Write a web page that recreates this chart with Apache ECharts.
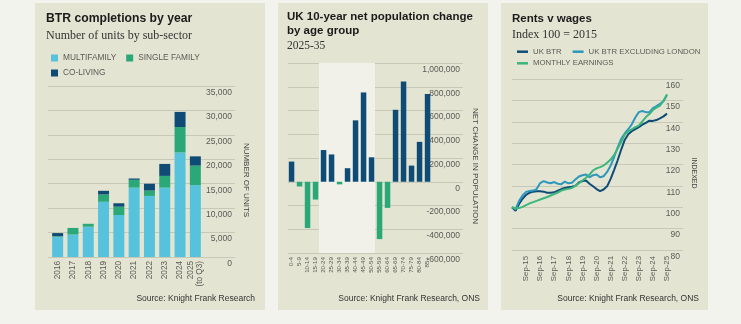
<!DOCTYPE html>
<html>
<head>
<meta charset="utf-8">
<script src="https://cdn.jsdelivr.net/npm/echarts@6/dist/echarts.min.js"></script>
<style>
  html, body { margin: 0; padding: 0; background: #f3f3ee; }
  #chart { width: 741px; height: 324px; }
</style>
</head>
<body>
<div id="chart"></div>
<script>
// ---- BTR completions by year (units) ----
const years = ['2016', '2017', '2018', '2019', '2020', '2021', '2022', '2023', '2024', '2025\n(to Q3)'];
const multifamily  = [4150, 4600, 6200, 11300, 8600, 14200, 12500, 14200, 21400, 14700];
const singleFamily = [100, 1350, 600, 1500, 1700, 1600, 1100, 2400, 5200, 4000];
const coLiving     = [650, 0, 0, 750, 700, 270, 1400, 2450, 3100, 1900];

// ---- UK 10-year net population change by age group, 2025-35 ----
const ageGroups = ['0-4', '5-9', '10-14', '15-19', '20-24', '25-29', '30-34', '35-39', '40-44',
                   '45-49', '50-54', '55-59', '60-64', '65-69', '70-74', '75-79', '80-84', '85+'];
const popChange = [170000, -40000, -390000, -150000, 267000, 230000, -22000, 114000, 517000,
                   752000, 206000, -483000, -220000, 606000, 844000, 136000, 336000, 739000];
const workingAgeBand = ['20-24', '50-54'];

// ---- Rents v wages (index 100 = 2015), quarterly ----
const quarters = (() => {
  const out = [];
  for (let y = 14; y <= 25; y++) {
    for (const m of ['Mar', 'Jun', 'Sep', 'Dec']) {
      if (y === 14 && (m === 'Mar' || m === 'Jun')) continue;
      if (y === 25 && m === 'Dec') continue;
      out.push(m + '-' + String(y).padStart(2, '0'));
    }
  }
  return out;
})();
const ukBtr = [100, 98.3, 101.5, 104, 105.8, 106.8, 107.3, 107.5, 107.5, 107.3,
               106.8, 106.8, 107, 107.8, 108.5, 109, 109.4, 109.6, 110, 111.6,
               112.3, 112.5, 111, 109.8, 108.5, 107.5, 108.3, 109.8, 113.3, 117.5,
               122, 127, 131.5, 134.2, 135.6, 136.5, 137.5, 138.6, 139.5, 140.5,
               140.4, 140.8, 141.6, 142.5, 143.8];
const ukBtrExLondon = [100, 99, 103, 105.5, 107.2, 107.6, 107.8, 108.5, 111.3, 112.2,
                       111.6, 111.2, 111.8, 111, 110.8, 112, 111.2, 111.5, 113, 114.4,
                       115, 115.3, 114, 115, 115.3, 114, 114.5, 116.5, 119.5, 123.5,
                       128, 132, 134.5, 136.5, 138.8, 142, 144.5, 145, 144.5, 144.5,
                       146.4, 147.3, 148.4, 149.6, 152.5];
const monthlyEarnings = [100, 99.5, 99.6, 100.2, 101, 101.8, 102.4, 103, 103.6, 104.2,
                         104.8, 105.5, 106.2, 106.9, 107.8, 108.3, 108.6, 109, 110, 111.2,
                         112.5, 113.8, 115.3, 117.2, 118.2, 118.8, 119.5, 120.8, 122.3, 124.5,
                         127.5, 130.5, 134, 135.5, 136.5, 137.5, 138.2, 140.2, 142.2, 143.6,
                         145.5, 146.6, 147.5, 149.8, 152.8];

const SANS = '"Liberation Sans", Arial, sans-serif';
const SERIF = '"Liberation Serif", "Times New Roman", serif';
const PANEL = '#e4e4d3';
const GRID_LINE = '#c8c8b6';
const NAVY = '#0f4c75';
const GREEN = '#2aa878';
const SKY = '#56c2dc';
const TEAL = '#2d98bd';
const EARN = '#3cb67c';
const LABEL = '#5a5a55';

const chart = echarts.init(document.getElementById('chart'), null, { renderer: 'canvas' });

// value axis that carries only the gridlines and inside labels of a panel
function gridAxis(gridIndex, min, max, interval) {
  return {
    type: 'value', gridIndex, position: 'right', min, max, interval, z: 1,
    axisLine: { show: false }, axisTick: { show: false },
    splitLine: { show: true, lineStyle: { color: GRID_LINE, width: 1 } },
    axisLabel: {
      inside: true, margin: 3, verticalAlign: 'top', padding: [2, 0, 0, 0],
      fontFamily: SANS, fontSize: 8.5, color: LABEL
    }
  };
}
function hiddenValueAxis(gridIndex, min, max) {
  return { type: 'value', gridIndex, min, max, show: false, splitLine: { show: false } };
}
function hiddenX(gridIndex) {
  return { type: 'value', gridIndex, show: false, splitLine: { show: false } };
}

function text(x, y, str, font, fill, extra) {
  return {
    type: 'text', x, y, silent: true,
    style: Object.assign({ text: str, font, fill, textVerticalAlign: 'middle' }, (extra || {}))
  };
}
function vtext(x, y, str, font, fill) {
  return {
    type: 'text', x, y, rotation: -Math.PI / 2, silent: true,
    style: { text: str, font, fill, textAlign: 'center', textVerticalAlign: 'middle' }
  };
}

const option = {
  backgroundColor: '#f3f3ee',
  animation: false,
  graphic: [
    { type: 'rect', z: -10, silent: true, shape: { x: 35, y: 3, width: 230, height: 307 }, style: { fill: PANEL } },
    { type: 'rect', z: -10, silent: true, shape: { x: 278, y: 3, width: 210, height: 307 }, style: { fill: PANEL } },
    { type: 'rect', z: -10, silent: true, shape: { x: 501, y: 3, width: 207, height: 307 }, style: { fill: PANEL } },

    text(46, 19, 'BTR completions by year', 'bold 12.2px ' + SANS, '#1b1b1b'),
    text(46, 35.5, 'Number of units by sub-sector', '12px ' + SERIF, '#333'),
    vtext(246.5, 180, 'NUMBER OF UNITS', '8px ' + SANS, '#444'),
    text(255, 299, 'Source: Knight Frank Research', '8.5px ' + SANS, '#333', { textAlign: 'right' }),

    text(287, 17, 'UK 10-year net population change', 'bold 11.5px ' + SANS, '#1b1b1b'),
    text(287, 30.5, 'by age group', 'bold 11.5px ' + SANS, '#1b1b1b'),
    text(287, 46, '2025-35', '11.5px ' + SERIF, '#333'),
    vtext(475, 166, 'NET CHANGE IN POPULATION', '8px ' + SANS, '#444'),
    text(480, 299, 'Source: Knight Frank Research, ONS', '8.5px ' + SANS, '#333', { textAlign: 'right' }),

    text(512, 19, 'Rents v wages', 'bold 11.5px ' + SANS, '#1b1b1b'),
    text(512, 34.5, 'Index 100 = 2015', '12px ' + SERIF, '#333'),
    vtext(694, 173, 'INDEXED', '7px ' + SANS, '#444'),
    text(699, 299, 'Source: Knight Frank Research, ONS', '8.5px ' + SANS, '#333', { textAlign: 'right' })
  ],
  legend: [
    {
      data: ['MULTIFAMILY', 'SINGLE FAMILY'], left: 51, top: 53, padding: 0, itemGap: 10,
      icon: 'rect', itemWidth: 7, itemHeight: 7, selectedMode: false,
      textStyle: { fontFamily: SANS, fontSize: 8.3, color: LABEL, lineHeight: 10 }
    },
    {
      data: ['CO-LIVING'], left: 51, top: 68, padding: 0,
      icon: 'rect', itemWidth: 7, itemHeight: 7, selectedMode: false,
      textStyle: { fontFamily: SANS, fontSize: 8.3, color: LABEL, lineHeight: 10 }
    },
    {
      data: ['UK BTR', 'UK BTR EXCLUDING LONDON'], left: 517, top: 46.7, padding: 0, itemGap: 11,
      icon: 'rect', itemWidth: 11, itemHeight: 2.5, selectedMode: false,
      textStyle: { fontFamily: SANS, fontSize: 7.8, color: LABEL, lineHeight: 10 }
    },
    {
      data: ['MONTHLY EARNINGS'], left: 517, top: 58.3, padding: 0,
      icon: 'rect', itemWidth: 11, itemHeight: 2.5, selectedMode: false,
      textStyle: { fontFamily: SANS, fontSize: 7.8, color: LABEL, lineHeight: 10 }
    }
  ],
  grid: [
    { left: 48, top: 86, width: 187, height: 171 },   // 0: completions gridlines
    { left: 50, top: 86, width: 153, height: 171 },   // 1: completions bars
    { left: 288, top: 63, width: 175, height: 190 },  // 2: population gridlines
    { left: 287, top: 63, width: 144, height: 190 },  // 3: population bars
    { left: 512, top: 79, width: 171, height: 171 },  // 4: rents gridlines
    { left: 512, top: 79, width: 155, height: 171 }   // 5: rents lines
  ],
  xAxis: [
    hiddenX(0),
    {
      type: 'category', gridIndex: 1, data: years,
      axisLine: { show: false }, axisTick: { show: false },
      axisLabel: { interval: 0, rotate: 90, margin: 4, fontFamily: SANS, fontSize: 8.2, color: LABEL, lineHeight: 9 }
    },
    hiddenX(2),
    {
      type: 'category', gridIndex: 3, data: ageGroups,
      axisLine: { show: false }, axisTick: { show: false },
      axisLabel: { interval: 0, rotate: 90, margin: 4, fontFamily: SANS, fontSize: 6.2, color: LABEL }
    },
    hiddenX(4),
    {
      type: 'category', gridIndex: 5, data: quarters, boundaryGap: false,
      axisLine: { show: false }, axisTick: { show: false },
      axisLabel: {
        interval: (i, v) => v.startsWith('Sep') && v !== 'Sep-14',
        rotate: 90, margin: 6, fontFamily: SANS, fontSize: 7.8, color: LABEL
      }
    }
  ],
  yAxis: [
    gridAxis(0, 0, 35000, 5000),
    hiddenValueAxis(1, 0, 35000),
    gridAxis(2, -600000, 1000000, 200000),
    hiddenValueAxis(3, -600000, 1000000),
    gridAxis(4, 80, 160, 10),
    hiddenValueAxis(5, 80, 160)
  ],
  series: [
    {
      name: 'MULTIFAMILY', type: 'bar', stack: 'btr', xAxisIndex: 1, yAxisIndex: 1,
      barWidth: 11, itemStyle: { color: SKY }, data: multifamily, z: 2
    },
    {
      name: 'SINGLE FAMILY', type: 'bar', stack: 'btr', xAxisIndex: 1, yAxisIndex: 1,
      barWidth: 11, itemStyle: { color: GREEN }, data: singleFamily, z: 2
    },
    {
      name: 'CO-LIVING', type: 'bar', stack: 'btr', xAxisIndex: 1, yAxisIndex: 1,
      barWidth: 11, itemStyle: { color: NAVY }, data: coLiving, z: 2
    },
    {
      name: 'working-age band', type: 'bar', xAxisIndex: 3, yAxisIndex: 3, data: [], z: 0.5, silent: true,
      markArea: {
        silent: true, itemStyle: { color: '#f1f1e9' },
        data: [[{ xAxis: workingAgeBand[0], yAxis: 1000000 }, { xAxis: workingAgeBand[1], yAxis: -600000 }]]
      }
    },
    {
      name: 'Net change', type: 'bar', xAxisIndex: 3, yAxisIndex: 3, barWidth: 5.5, z: 2,
      itemStyle: { color: p => (p.value < 0 ? GREEN : NAVY) },
      data: popChange
    },
    {
      name: 'UK BTR', type: 'line', xAxisIndex: 5, yAxisIndex: 5, data: ukBtr,
      symbol: 'none', lineStyle: { width: 2, color: NAVY }, itemStyle: { color: NAVY }, z: 3
    },
    {
      name: 'UK BTR EXCLUDING LONDON', type: 'line', xAxisIndex: 5, yAxisIndex: 5, data: ukBtrExLondon,
      symbol: 'none', lineStyle: { width: 2, color: TEAL }, itemStyle: { color: TEAL }, z: 3
    },
    {
      name: 'MONTHLY EARNINGS', type: 'line', xAxisIndex: 5, yAxisIndex: 5, data: monthlyEarnings,
      symbol: 'none', lineStyle: { width: 2, color: EARN }, itemStyle: { color: EARN }, z: 3
    }
  ]
};

chart.setOption(option);
</script>
</body>
</html>
